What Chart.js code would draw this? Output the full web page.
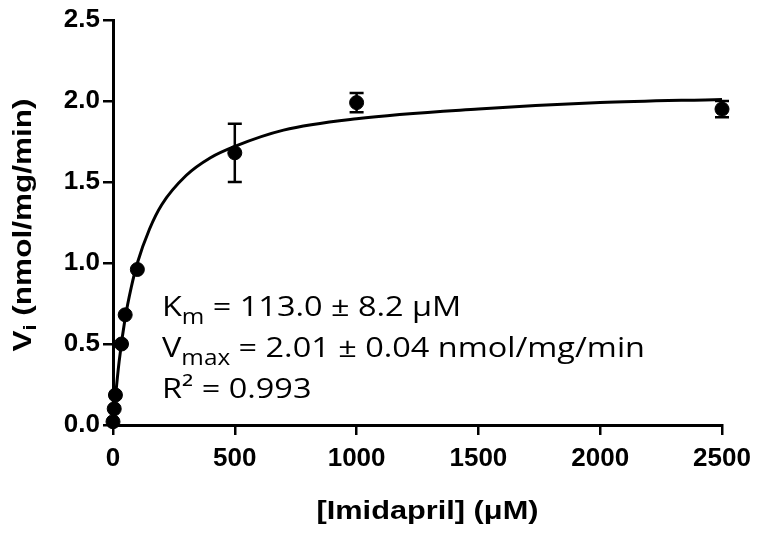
<!DOCTYPE html>
<html>
<head>
<meta charset="utf-8">
<script src="https://cdn.jsdelivr.net/npm/chart.js@4"></script>
<style>
  html, body { margin: 0; padding: 0; background: #fff; }
  #wrap { width: 760px; height: 536px; position: relative; }
</style>
</head>
<body>
<div id="wrap"><canvas id="kinetics"></canvas></div>
<script>
// measured points (mean +/- error)
const concentrations = [0, 5, 10, 35, 50, 100, 500, 1000, 2500];
const rates = [0.02, 0.1, 0.185, 0.5, 0.68, 0.96, 1.68, 1.99, 1.95];
const rateErrors = [0, 0, 0, 0, 0, 0, 0.18, 0.06, 0.05];

// fitted curve
const fitX = [0, 10, 25, 50, 75, 100, 150, 200, 300, 400, 500, 700, 1000, 1500, 2000, 2500];
const fitY = [0, 0.17, 0.39, 0.66, 0.85, 1.0, 1.21, 1.36, 1.54, 1.65, 1.72, 1.82, 1.89, 1.95, 1.99, 2.01];

const xTicks = [0, 500, 1000, 1500, 2000, 2500];
const yTicks = [0, 0.5, 1.0, 1.5, 2.0, 2.5];

const xTitle = '[Imidapril] (\u03bcM)';
const yTitle = { main: 'V', sub: 'i', rest: ' (nmol/mg/min)' };
const fitText = [
  { main: 'K', sub: 'm', rest: ' = 113.0 \u00b1 8.2 \u03bcM' },
  { main: 'V', sub: 'max', rest: ' = 2.01 \u00b1 0.04 nmol/mg/min' },
  { main: 'R\u00b2', sub: '', rest: ' = 0.993' }
];

const tickFont = { family: 'Liberation Sans, Arial, sans-serif', size: 26, weight: 'bold' };

const errorBars = {
  id: 'errorBars',
  afterDatasetsDraw(chart) {
    const meta = chart.getDatasetMeta(1);
    const ctx = chart.ctx;
    const yScale = chart.scales.y;
    ctx.save();
    ctx.strokeStyle = '#000';
    ctx.lineWidth = 2.5;
    meta.data.forEach((pt, i) => {
      const err = rateErrors[i];
      if (!err) return;
      const top = yScale.getPixelForValue(rates[i] + err);
      const bot = yScale.getPixelForValue(rates[i] - err);
      ctx.beginPath();
      ctx.moveTo(pt.x, top); ctx.lineTo(pt.x, bot);
      ctx.moveTo(pt.x - 7, top); ctx.lineTo(pt.x + 7, top);
      ctx.moveTo(pt.x - 7, bot); ctx.lineTo(pt.x + 7, bot);
      ctx.stroke();
    });
    ctx.restore();
  }
};

// draws main+sub+rest pieces starting at x
function drawPieces(ctx, p, x, y, bigFont, smallFont, subDrop) {
  ctx.font = bigFont;
  ctx.fillText(p.main, x, y);
  x += ctx.measureText(p.main).width;
  if (p.sub) {
    ctx.font = smallFont;
    ctx.fillText(p.sub, x, y + subDrop);
    x += ctx.measureText(p.sub).width;
  }
  ctx.font = bigFont;
  ctx.fillText(p.rest, x, y);
}

function piecesWidth(ctx, p, bigFont, smallFont) {
  ctx.font = bigFont;
  let w = ctx.measureText(p.main).width + ctx.measureText(p.rest).width;
  ctx.font = smallFont;
  if (p.sub) w += ctx.measureText(p.sub).width;
  return w;
}

const labels = {
  id: 'labels',
  afterDraw(chart) {
    const ctx = chart.ctx;
    const area = chart.chartArea;
    ctx.fillStyle = '#000';
    ctx.textAlign = 'left';

    // y axis title with subscript, stretched a little along the text
    const big = 'bold 26px Liberation Sans, Arial, sans-serif';
    const small = 'bold 18px Liberation Sans, Arial, sans-serif';
    ctx.save();
    ctx.textBaseline = 'middle';
    ctx.translate(24, 225);
    ctx.rotate(-Math.PI / 2);
    let w = piecesWidth(ctx, yTitle, big, small);
    ctx.scale(253 / w, 1);
    drawPieces(ctx, yTitle, -w / 2, 0, big, small, 7);
    ctx.restore();

    // x axis title
    ctx.save();
    ctx.textBaseline = 'middle';
    ctx.font = big;
    w = ctx.measureText(xTitle).width;
    ctx.translate((area.left + area.right) / 2 + 10, 512);
    ctx.scale(222 / w, 1);
    ctx.fillText(xTitle, -w / 2, 0);
    ctx.restore();

    // fit parameters
    ctx.save();
    ctx.textBaseline = 'alphabetic';
    const mainFont = '28px Open Sans, Noto Sans, sans-serif';
    const subFont = '21px Open Sans, Noto Sans, sans-serif';
    const lineW = piecesWidth(ctx, fitText[1], mainFont, subFont);
    ctx.translate(area.left + 49, 0);
    ctx.scale(483 / lineW, 1);
    fitText.forEach((line, i) => {
      drawPieces(ctx, line, 0, 316 + i * 41, mainFont, subFont, 8);
    });
    ctx.restore();
  }
};

new Chart(document.getElementById('kinetics'), {
  data: {
    datasets: [
      {
        type: 'line',
        data: fitX.map((x, i) => ({ x: x, y: fitY[i] })),
        borderColor: '#000',
        borderWidth: 3,
        pointRadius: 0,
        cubicInterpolationMode: 'monotone',
        fill: false,
        order: 2
      },
      {
        type: 'scatter',
        data: concentrations.map((x, i) => ({ x: x, y: rates[i] })),
        backgroundColor: '#000',
        borderColor: '#000',
        pointRadius: 7,
        clip: false,
        order: 1
      }
    ]
  },
  options: {
    responsive: true,
    maintainAspectRatio: false,
    animation: false,
    layout: { padding: { top: 20, right: 38, left: 0, bottom: 0 } },
    plugins: { legend: { display: false }, tooltip: { enabled: false } },
    scales: {
      x: {
        type: 'linear',
        min: 0,
        max: 2500,
        afterFit(scale) { scale.height = 111; },
        afterBuildTicks(scale) { scale.ticks = xTicks.map(v => ({ value: v })); },
        border: { display: true, color: '#000', width: 3 },
        grid: { drawOnChartArea: false, drawTicks: true, tickLength: 10, color: '#000', lineWidth: 2.5 },
        ticks: { color: '#000', font: tickFont, padding: 8, maxRotation: 0, callback: v => String(v) }
      },
      y: {
        type: 'linear',
        min: 0,
        max: 2.5,
        afterFit(scale) { scale.width = 113; },
        afterBuildTicks(scale) { scale.ticks = yTicks.map(v => ({ value: v })); },
        border: { display: true, color: '#000', width: 3 },
        grid: { drawOnChartArea: false, drawTicks: true, tickLength: 10, color: '#000', lineWidth: 2.5 },
        ticks: {
          color: '#000',
          font: tickFont,
          padding: 3,
          callback: v => v.toFixed(1)
        }
      }
    }
  },
  plugins: [errorBars, labels]
});
</script>
</body>
</html>
